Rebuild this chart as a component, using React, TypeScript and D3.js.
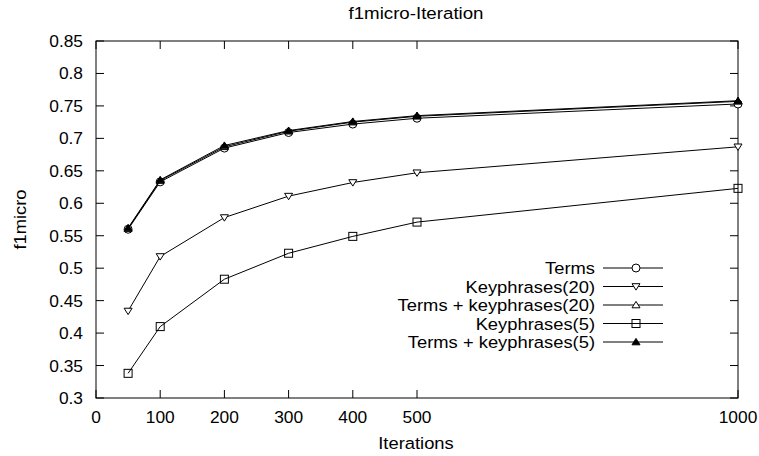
import * as d3 from 'd3'

const iterations = [50, 100, 200, 300, 400, 500, 1000]
const terms = [0.560, 0.633, 0.685, 0.709, 0.722, 0.731, 0.753]
const kp20 = [0.434, 0.518, 0.578, 0.611, 0.632, 0.647, 0.687]
const termsKp20 = [0.561, 0.635, 0.687, 0.711, 0.725, 0.734, 0.757]
const kp5 = [0.338, 0.410, 0.483, 0.523, 0.549, 0.571, 0.623]
const termsKp5 = [0.562, 0.636, 0.689, 0.712, 0.726, 0.735, 0.758]

const xTicks = [0, 100, 200, 300, 400, 500, 1000]
const yTicks = [0.3, 0.35, 0.4, 0.45, 0.5, 0.55, 0.6, 0.65, 0.7, 0.75, 0.8, 0.85]

const seriesNames = ['Terms', 'Keyphrases(20)', 'Terms + keyphrases(20)', 'Keyphrases(5)', 'Terms + keyphrases(5)']
const seriesValues = [terms, kp20, termsKp20, kp5, termsKp5]
const seriesMarkers = ['circle', 'down', 'up', 'square', 'upFilled']

const W = 759
const H = 456
const margin = { left: 96, right: 21, top: 41, bottom: 58 }
const font = '"Liberation Sans", Arial, sans-serif'
const fs = 17

// gnuplot's helvetica renders a bit wider than Liberation Sans
const Label = ({ x, y, anchor, sx = 1.08, rotate = 0, children }: any) => (
    <text transform={`translate(${x},${y}) rotate(${rotate}) scale(${sx},1)`}
        textAnchor={anchor} fontSize={fs}>{children}</text>
)

const Marker = ({ kind, x, y }: { kind: string, x: number, y: number }) => {
    const s = 4
    if (kind === 'circle') return <circle cx={x} cy={y} r={s} fill="white" stroke="black" />
    if (kind === 'square') return <rect x={x - s} y={y - s} width={2 * s} height={2 * s} fill="none" stroke="black" />
    if (kind === 'down') {
        return <path d={`M${x - s},${y - s * 0.7}L${x + s},${y - s * 0.7}L${x},${y + s * 0.9}Z`} fill="white" stroke="black" />
    }
    const filled = kind === 'upFilled'
    return <path d={`M${x - s},${y + s * 0.7}L${x + s},${y + s * 0.7}L${x},${y - s * 0.9}Z`}
        fill={filled ? 'black' : 'white'} stroke="black" />
}

export default function App() {
    const x = d3.scaleLinear().domain([0, 1000]).range([margin.left, W - margin.right])
    const y = d3.scaleLinear().domain([0.3, 0.85]).range([H - margin.bottom, margin.top])
    const line = d3.line<number>()
        .x((d, i) => x(iterations[i]))
        .y(d => y(d))

    const x0 = x.range()[0], x1 = x.range()[1]
    const y0 = y.range()[0], y1 = y.range()[1]
    const tick = 8

    const legendX = 595
    const legendY = 268
    const rowH = 18.5

    return (
        <svg width={W} height={H} style={{ position: 'absolute', left: 0, top: 0 }} fontFamily={font}>
            <rect width={W} height={H} fill="white" />
            <Label x={416} y={19} anchor="middle" sx={1.1}>f1micro-Iteration</Label>

            {yTicks.map(t => (
                <g key={t}>
                    <line x1={x0} x2={x0 + tick} y1={y(t)} y2={y(t)} stroke="black" />
                    <line x1={x1} x2={x1 - tick} y1={y(t)} y2={y(t)} stroke="black" />
                    <Label x={x0 - 13} y={y(t) + 6} anchor="end" sx={1.02}>{String(+t.toFixed(2))}</Label>
                </g>
            ))}
            {xTicks.map(t => (
                <g key={t}>
                    <line x1={x(t)} x2={x(t)} y1={y0} y2={y0 - tick} stroke="black" />
                    <line x1={x(t)} x2={x(t)} y1={y1} y2={y1 + tick} stroke="black" />
                    <Label x={x(t)} y={y0 + 25} anchor="middle" sx={1.02}>{t}</Label>
                </g>
            ))}
            <rect x={x0} y={y1} width={x1 - x0} height={y0 - y1} fill="none" stroke="black" />

            <Label x={416} y={449} anchor="middle">Iterations</Label>
            <Label x={26} y={(y0 + y1) / 2} anchor="middle" rotate={-90}>f1micro</Label>

            {seriesValues.map((vals, si) => (
                <g key={si}>
                    <path d={line(vals) || ''} fill="none" stroke="black" strokeWidth={1} />
                    {vals.map((v, i) => (
                        <Marker key={i} kind={seriesMarkers[si]} x={x(iterations[i])} y={y(v)} />
                    ))}
                </g>
            ))}

            {seriesNames.map((name, i) => {
                const ly = legendY + i * rowH
                return (
                    <g key={name}>
                        <Label x={legendX} y={ly + 6} anchor="end">{name}</Label>
                        <line x1={legendX + 8} x2={legendX + 68} y1={ly} y2={ly} stroke="black" />
                        <Marker kind={seriesMarkers[i]} x={legendX + 41} y={ly} />
                    </g>
                )
            })}
        </svg>
    )
}
